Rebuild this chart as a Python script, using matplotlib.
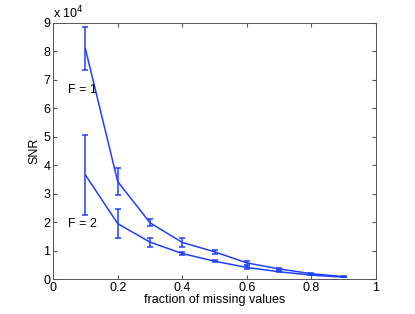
import numpy as np
import matplotlib
matplotlib.use('Agg')
import matplotlib.pyplot as plt
from matplotlib.ticker import FuncFormatter

plt.rcParams['font.family'] = ['Liberation Sans', 'DejaVu Sans']

frac = [0.1, 0.2, 0.3, 0.4, 0.5, 0.6, 0.7, 0.8, 0.9]

# SNR for F = 1 and F = 2 (x 1e4), with half-width of error bars
snr_f1 = [8.09, 3.43, 1.98, 1.29, 0.96, 0.57, 0.36, 0.19, 0.09]
err_f1 = [0.75, 0.46, 0.13, 0.17, 0.08, 0.06, 0.03, 0.02, 0.01]
snr_f2 = [3.66, 1.95, 1.30, 0.90, 0.63, 0.41, 0.26, 0.14, 0.07]
err_f2 = [1.40, 0.50, 0.16, 0.06, 0.03, 0.05, 0.02, 0.01, 0.01]

scale = 1e4
col = '#2040ff'
fs = 9

fig = plt.figure(figsize=(4.15, 3.14), dpi=100)
ax = fig.add_axes([0.128, 0.111, 0.778, 0.816])

for y, e in [(snr_f1, err_f1), (snr_f2, err_f2)]:
    ax.errorbar(frac, np.array(y) * scale, yerr=np.array(e) * scale,
                color=col, lw=1.1, elinewidth=1.1, capsize=2.5, capthick=1.1)

ax.text(0.045, 6.65e4, 'F = 1', fontsize=fs, va='center')
ax.text(0.045, 1.94e4, 'F = 2', fontsize=fs, va='center')

ax.set_xlim(0, 1)
ax.set_ylim(0, 9e4)
ax.set_xticks([0, 0.2, 0.4, 0.6, 0.8, 1])
ax.set_xticklabels(['0', '0.2', '0.4', '0.6', '0.8', '1'])
ax.set_yticks(np.arange(0, 10) * scale)
ax.yaxis.set_major_formatter(FuncFormatter(lambda v, p: '%d' % round(v / scale)))
ax.text(0.0, 1.005, 'x 10$^{4}$', transform=ax.transAxes, fontsize=fs,
        va='bottom', ha='left')

ax.tick_params(direction='in', labelsize=fs, length=3, top=True, right=True,
               color='#555555', pad=2)
for s in ax.spines.values():
    s.set_color('#555555')
    s.set_linewidth(0.7)

ax.set_xlabel('fraction of missing values', fontsize=fs, labelpad=0)
ax.set_ylabel('SNR', fontsize=fs, labelpad=2)

plt.savefig('out.png', dpi=100)
